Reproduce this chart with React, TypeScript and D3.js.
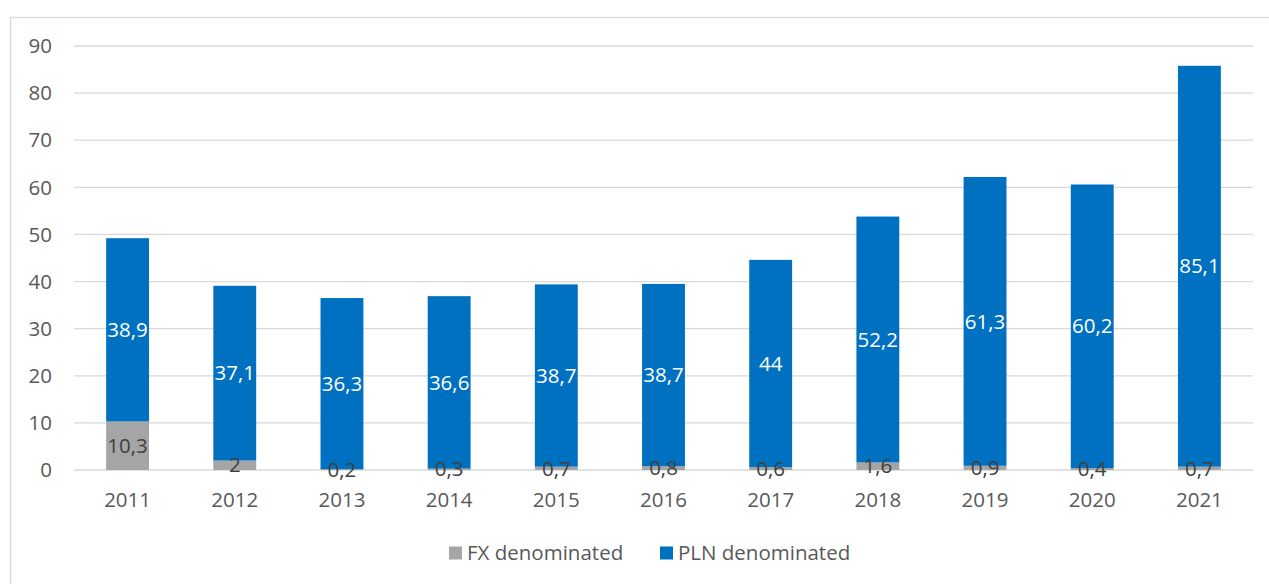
import { useEffect, useRef } from 'react';
import * as d3 from 'd3';

const years = ['2011', '2012', '2013', '2014', '2015', '2016', '2017', '2018', '2019', '2020', '2021'];
const fxValues = [10.3, 2, 0.2, 0.3, 0.7, 0.8, 0.6, 1.6, 0.9, 0.4, 0.7];
const plnValues = [38.9, 37.1, 36.3, 36.6, 38.7, 38.7, 44, 52.2, 61.3, 60.2, 85.1];
const yTicks = [0, 10, 20, 30, 40, 50, 60, 70, 80, 90];
const seriesNames = ['FX denominated', 'PLN denominated'];
const seriesColors = ['#A5A5A5', '#0070C0'];

const W = 1269;
const H = 584;
const fmt = (v: number) => String(v).replace('.', ',');

const App = () => {
	const svgRef = useRef<SVGSVGElement>(null);

	useEffect(() => {
		const svg = d3.select(svgRef.current);
		svg.selectAll('*').remove();
		const font = "'Open Sans', 'Noto Sans', sans-serif";
		const fs = '20.5px';

		// chart frame
		svg.append('rect')
			.attr('x', 10.5).attr('y', 17.5)
			.attr('width', W + 20).attr('height', H + 20)
			.attr('fill', '#fff').attr('stroke', '#d9d9d9').attr('stroke-width', 1.3);

		const x = d3.scaleBand().domain(years).range([74, 1253]).paddingInner(0.6).paddingOuter(0.3);
		const y = d3.scaleLinear().domain([0, 90]).range([470, 46]);

		svg.append('g')
			.selectAll('line')
			.data(yTicks)
			.join('line')
			.attr('x1', 74).attr('x2', 1253)
			.attr('y1', d => y(d)).attr('y2', d => y(d))
			.attr('stroke', '#d9d9d9').attr('stroke-width', 1.3);

		svg.append('g')
			.selectAll('text')
			.data(yTicks)
			.join('text')
			.attr('x', 52).attr('y', d => y(d))
			.attr('dy', '0.35em')
			.attr('text-anchor', 'end')
			.attr('fill', '#595959')
			.style('font', `${fs} ${font}`)
			.text(d => d);

		const rows = years.map((yr, i) => ({ year: yr, fx: fxValues[i], pln: plnValues[i] }));
		const stacked = d3.stack<any>().keys(['fx', 'pln'])(rows);

		stacked.forEach((layer, li) => {
			svg.append('g')
				.selectAll('rect')
				.data(layer)
				.join('rect')
				.attr('x', d => x(d.data.year)!)
				.attr('width', x.bandwidth())
				.attr('y', d => y(d[1]))
				.attr('height', d => y(d[0]) - y(d[1]))
				.attr('fill', seriesColors[li]);
		});

		stacked.forEach((layer, li) => {
			svg.append('g')
				.selectAll('text')
				.data(layer)
				.join('text')
				.attr('x', d => x(d.data.year)! + x.bandwidth() / 2)
				.attr('y', d => y((d[0] + d[1]) / 2))
				.attr('dy', '0.35em')
				.attr('text-anchor', 'middle')
				.attr('fill', li === 0 ? '#404040' : '#fff')
				.style('font', `${fs} ${font}`)
				.text(d => fmt(d.data[layer.key]));
		});

		svg.append('g')
			.selectAll('text')
			.data(years)
			.join('text')
			.attr('x', d => x(d)! + x.bandwidth() / 2)
			.attr('y', 500)
			.attr('dy', '0.35em')
			.attr('text-anchor', 'middle')
			.attr('fill', '#595959')
			.style('font', `${fs} ${font}`)
			.text(d => d);

		const legendX = [449, 660];
		const legend = svg.append('g')
			.selectAll('g')
			.data(seriesNames)
			.join('g')
			.attr('transform', (d, i) => `translate(${legendX[i]},553)`);
		legend.append('rect')
			.attr('x', 0).attr('y', -6.5).attr('width', 13).attr('height', 13)
			.attr('fill', (d, i) => seriesColors[i]);
		legend.append('text')
			.attr('x', 18).attr('dy', '0.35em')
			.attr('fill', '#595959')
			.style('font', `${fs} ${font}`)
			.text(d => d);
	}, []);

	return (
		<svg ref={svgRef} width={W} height={H} style={{ position: 'absolute', left: 0, top: 0 }} />
	);
};

export default App;
